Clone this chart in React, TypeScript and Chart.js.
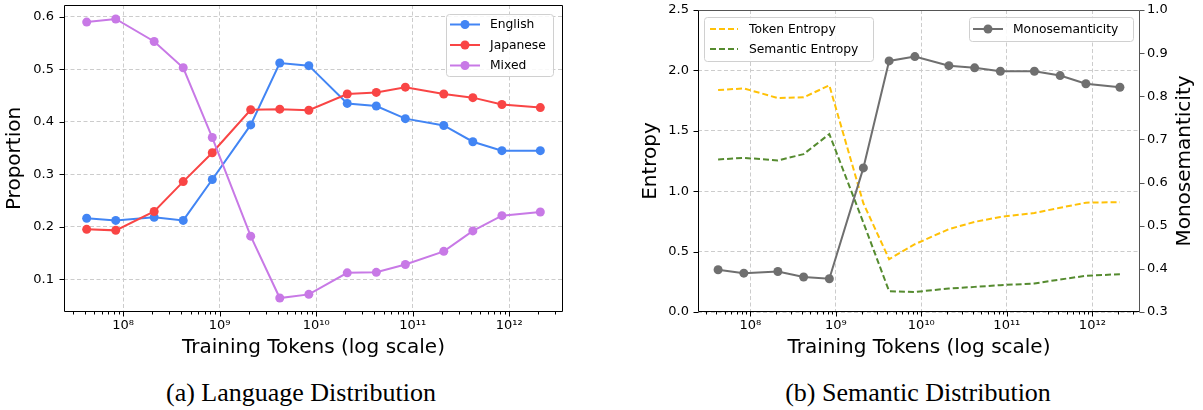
import React, { useEffect, useRef } from "react";
import { Chart, registerables } from "chart.js";

Chart.register(...registerables);

// ---------- data ----------
const tokens = [4.2e7, 8.4e7, 2.1e8, 4.2e8, 8.4e8, 2.1e9, 4.2e9, 8.4e9, 2.1e10, 4.2e10, 8.4e10, 2.1e11, 4.2e11, 8.4e11, 2.1e12];

const english = [0.216, 0.212, 0.218, 0.212, 0.29, 0.394, 0.512, 0.507, 0.435, 0.43, 0.406, 0.393, 0.362, 0.345, 0.345];
const japanese = [0.195, 0.193, 0.229, 0.286, 0.341, 0.423, 0.424, 0.422, 0.453, 0.456, 0.466, 0.453, 0.446, 0.433, 0.427];
const mixed = [0.59, 0.596, 0.553, 0.503, 0.37, 0.182, 0.064, 0.071, 0.112, 0.113, 0.128, 0.153, 0.192, 0.221, 0.228];

const tokenEntropy = [1.837, 1.851, 1.771, 1.777, 1.876, 0.9, 0.437, 0.561, 0.686, 0.746, 0.787, 0.82, 0.863, 0.905, 0.909];
const semanticEntropy = [1.263, 1.276, 1.255, 1.307, 1.473, 0.74, 0.172, 0.166, 0.194, 0.208, 0.222, 0.236, 0.269, 0.3, 0.313];
const monosemanticity = [0.398, 0.39, 0.394, 0.381, 0.377, 0.634, 0.882, 0.892, 0.871, 0.866, 0.858, 0.858, 0.848, 0.829, 0.821];

const proportionTicks = [0.1, 0.2, 0.3, 0.4, 0.5, 0.6];
const entropyTicks = [0, 0.5, 1.0, 1.5, 2.0, 2.5];
const monoTicks = [0.3, 0.4, 0.5, 0.6, 0.7, 0.8, 0.9, 1.0];
const decadeTicks = [1e8, 1e9, 1e10, 1e11, 1e12];
const decadeLabels = ["10⁸", "10⁹", "10¹⁰", "10¹¹", "10¹²"];

// ---------- styles ----------
const BLUE = "#4285F4";
const RED = "#F94545";
const PURPLE = "#C879E6";
const YELLOW = "#FFC107";
const GREEN = "#558B2F";
const GRAY = "#6F6F6F";
const GRID = "#cccccc";
const FONT = "'DejaVu Sans'";
const tickFont = { family: FONT, size: 13 };
const titleFont = { family: FONT, size: 20 };

const pts = (ys: number[]) => tokens.map((x, i) => ({ x, y: ys[i] }));

// x range: matplotlib-like 5% margin in log space
const lx0 = Math.log10(tokens[0]);
const lx1 = Math.log10(tokens[tokens.length - 1]);
const xMin = Math.pow(10, lx0 - 0.05 * (lx1 - lx0));
const xMax = Math.pow(10, lx1 + 0.05 * (lx1 - lx0));

const allProp = [...english, ...japanese, ...mixed];
const pMin = Math.min(...allProp);
const pMax = Math.max(...allProp);
const yPropMin = pMin - 0.05 * (pMax - pMin);
const yPropMax = pMax + 0.05 * (pMax - pMin);

// all log tick positions (majors + minors) within range
const xTickValues: { value: number; major: boolean }[] = [];
for (let k = 6; k <= 13; k++) {
  for (let n = 1; n <= 9; n++) {
    const v = n * Math.pow(10, k);
    if (v >= xMin && v <= xMax) xTickValues.push({ value: v, major: n === 1 });
  }
}

const fixSize = (dim: "width" | "height", v: number) => (scale: any) => {
  scale[dim] = v;
  scale.paddingTop = 0;
  scale.paddingBottom = 0;
  scale.paddingLeft = 0;
  scale.paddingRight = 0;
};

const xScaleOpts = () => ({
  type: "logarithmic",
  position: "bottom",
  min: xMin,
  max: xMax,
  bounds: "data",
  afterBuildTicks: (s: any) => {
    s.ticks = xTickValues.map((t) => ({ value: t.value, major: t.major }));
  },
  afterFit: fixSize("height", 53),
  grid: {
    drawTicks: false,
    lineWidth: 1,
    color: (c: any) => (c.tick && c.tick.major ? GRID : "rgba(0,0,0,0)"),
  },
  border: { display: false, dash: [4, 2.5] },
  ticks: {
    autoSkip: false,
    maxRotation: 0,
    minRotation: 0,
    padding: 6,
    color: "#000",
    font: tickFont,
    callback: (v: any) => {
      const idx = decadeTicks.findIndex((d) => Math.abs(d - Number(v)) / d < 1e-9);
      return idx >= 0 ? decadeLabels[idx] : "";
    },
  },
  title: {
    display: true,
    text: "Training Tokens (log scale)",
    color: "#000",
    font: titleFont,
    padding: { top: 0, bottom: 5 },
  },
});

// ---------- plugin: matplotlib-like frame, ticks, inner legends ----------
const mplPlugin: any = {
  id: "mpl",
  afterDraw(chart: any, _args: any, opts: any) {
    const ctx = chart.ctx as CanvasRenderingContext2D;
    const ca = chart.chartArea;
    const L = Math.round(ca.left) + 0.5;
    const R = Math.round(ca.right) - 0.5;
    const T = Math.round(ca.top) + 0.5;
    const B = Math.round(ca.bottom) - 0.5;
    ctx.save();
    ctx.setLineDash([]);
    // tick marks
    Object.keys(chart.scales).forEach((id) => {
      const s = chart.scales[id];
      ctx.strokeStyle = (opts.tickColors && opts.tickColors[id]) || "#000";
      ctx.lineWidth = 1;
      ctx.beginPath();
      s.ticks.forEach((t: any) => {
        const p = Math.round(s.getPixelForValue(t.value)) + 0.5;
        if (s.isHorizontal()) {
          const len = t.major ? 5 : 3;
          ctx.moveTo(p, B);
          ctx.lineTo(p, B + len);
        } else if (s.position === "left") {
          ctx.moveTo(L - 5, p - 0.5 + 0.5);
          ctx.lineTo(L, p);
        } else {
          ctx.moveTo(R, p);
          ctx.lineTo(R + 5, p);
        }
      });
      ctx.stroke();
    });
    // spines
    const sp = opts.spines;
    const seg = (x1: number, y1: number, x2: number, y2: number, c: string) => {
      ctx.strokeStyle = c;
      ctx.lineWidth = 1;
      ctx.beginPath();
      ctx.moveTo(x1, y1);
      ctx.lineTo(x2, y2);
      ctx.stroke();
    };
    seg(L, T, R, T, sp.top);
    seg(R, T, R, B, sp.right);
    seg(L, B, R, B, sp.bottom);
    seg(L, T, L, B, sp.left);

    // legends
    (opts.legends || []).forEach((lg: any) => {
      const x0 = lg.anchor === "ne" ? ca.right - lg.dx - lg.width : ca.left + lg.dx;
      const y0 = ca.top + lg.dy;
      ctx.beginPath();
      const anyCtx = ctx as any;
      if (anyCtx.roundRect) anyCtx.roundRect(Math.round(x0) + 0.5, Math.round(y0) + 0.5, lg.width, lg.height, 3);
      else ctx.rect(Math.round(x0) + 0.5, Math.round(y0) + 0.5, lg.width, lg.height);
      ctx.fillStyle = "rgba(255,255,255,0.85)";
      ctx.fill();
      ctx.strokeStyle = "#d0d0d0";
      ctx.lineWidth = 1;
      ctx.stroke();
      const n = lg.items.length;
      lg.items.forEach((di: number, k: number) => {
        const ds = chart.data.datasets[di];
        const cy = y0 + lg.height / 2 + (k - (n - 1) / 2) * lg.rowGap;
        ctx.strokeStyle = ds.borderColor;
        ctx.lineWidth = ds.borderWidth;
        ctx.setLineDash(ds.borderDash || []);
        ctx.beginPath();
        ctx.moveTo(x0 + lg.hx0, cy);
        ctx.lineTo(x0 + lg.hx1, cy);
        ctx.stroke();
        ctx.setLineDash([]);
        if (ds.pointRadius > 0) {
          ctx.beginPath();
          ctx.arc(x0 + (lg.hx0 + lg.hx1) / 2, cy, ds.pointRadius, 0, Math.PI * 2);
          ctx.fillStyle = ds.pointBackgroundColor;
          ctx.fill();
        }
        ctx.fillStyle = "#000";
        ctx.font = `12.3px ${FONT}`;
        ctx.textAlign = "left";
        ctx.textBaseline = "middle";
        ctx.fillText(ds.label, x0 + lg.tx, cy + 0.5);
      });
    });

    // right-side axis title reading bottom-to-top
    if (opts.rightTitle) {
      const rt = opts.rightTitle;
      ctx.save();
      ctx.translate(chart.width - rt.fromRight, (ca.top + ca.bottom) / 2);
      ctx.rotate(-Math.PI / 2);
      ctx.fillStyle = "#000";
      ctx.font = `20px ${FONT}`;
      ctx.textAlign = "center";
      ctx.textBaseline = "middle";
      ctx.fillText(rt.text, 0, 0);
      ctx.restore();
    }
    ctx.restore();
  },
};

const lineDs = (label: string, ys: number[], color: string, order: number, extra: any = {}) => ({
  label,
  data: pts(ys),
  borderColor: color,
  backgroundColor: color,
  pointBackgroundColor: color,
  pointBorderColor: color,
  pointBorderWidth: 0,
  pointRadius: 4.5,
  borderWidth: 2,
  tension: 0,
  order,
  ...extra,
});

function leftConfig(): any {
  return {
    type: "line",
    data: {
      datasets: [
        lineDs("English", english, BLUE, 2),
        lineDs("Japanese", japanese, RED, 1),
        lineDs("Mixed", mixed, PURPLE, 0),
      ],
    },
    options: {
      responsive: false,
      animation: false,
      devicePixelRatio: 1,
      events: [],
      layout: { padding: { left: 0, right: 37, top: 5, bottom: 0 } },
      scales: {
        x: xScaleOpts(),
        y: {
          type: "linear",
          position: "left",
          min: yPropMin,
          max: yPropMax,
          bounds: "data",
          afterBuildTicks: (s: any) => {
            s.ticks = proportionTicks.map((v) => ({ value: v }));
          },
          afterFit: fixSize("width", 64),
          grid: { drawTicks: false, color: GRID, lineWidth: 1 },
          border: { display: false, dash: [4, 2.5] },
          ticks: { padding: 10, color: "#000", font: tickFont, callback: (v: any) => Number(v).toFixed(1) },
          title: { display: true, text: "Proportion", color: "#000", font: titleFont, padding: { top: 3, bottom: 0 } },
        },
      },
      plugins: {
        legend: { display: false },
        tooltip: { enabled: false },
        mpl: {
          spines: { left: "#000", right: "#000", top: "#000", bottom: "#000" },
          legends: [
            { anchor: "ne", dx: 10, dy: 9, width: 107, height: 62, rowGap: 20.5, hx0: 4, hx1: 34, tx: 44, items: [0, 1, 2] },
          ],
        },
      },
    },
    plugins: [mplPlugin],
  };
}

function rightConfig(): any {
  return {
    type: "line",
    data: {
      datasets: [
        lineDs("Token Entropy", tokenEntropy, YELLOW, 2, { pointRadius: 0, borderDash: [6, 3], yAxisID: "y" }),
        lineDs("Semantic Entropy", semanticEntropy, GREEN, 1, { pointRadius: 0, borderDash: [6, 3], yAxisID: "y" }),
        lineDs("Monosemanticity", monosemanticity, GRAY, 0, { yAxisID: "y2" }),
      ],
    },
    options: {
      responsive: false,
      animation: false,
      devicePixelRatio: 1,
      events: [],
      layout: { padding: { left: 0, right: 0, top: 10, bottom: 0 } },
      scales: {
        x: xScaleOpts(),
        y: {
          type: "linear",
          position: "left",
          min: entropyTicks[0],
          max: entropyTicks[entropyTicks.length - 1],
          bounds: "data",
          afterBuildTicks: (s: any) => {
            s.ticks = entropyTicks.map((v) => ({ value: v }));
          },
          afterFit: fixSize("width", 98),
          grid: { drawTicks: false, color: GRID, lineWidth: 1 },
          border: { display: false, dash: [4, 2.5] },
          ticks: { padding: 9, color: "#000", font: tickFont, callback: (v: any) => Number(v).toFixed(1) },
          title: { display: true, text: "Entropy", color: "#000", font: titleFont, padding: { top: 39, bottom: 0 } },
        },
        y2: {
          type: "linear",
          position: "right",
          min: monoTicks[0],
          max: monoTicks[monoTicks.length - 1],
          bounds: "data",
          afterBuildTicks: (s: any) => {
            s.ticks = monoTicks.map((v) => ({ value: v }));
          },
          afterFit: fixSize("width", 63),
          grid: { drawTicks: false, drawOnChartArea: false },
          border: { display: false },
          ticks: { padding: 7, color: "#000", font: tickFont, callback: (v: any) => Number(v).toFixed(1) },
          title: { display: false },
        },
      },
      plugins: {
        legend: { display: false },
        tooltip: { enabled: false },
        mpl: {
          spines: { left: "#000", right: "#555", top: "#555", bottom: "#000" },
          tickColors: { y2: "#555" },
          rightTitle: { text: "Monosemanticity", fromRight: 18 },
          legends: [
            { anchor: "nw", dx: 6, dy: 7, width: 169, height: 44, rowGap: 20, hx0: 6, hx1: 34, tx: 45, items: [0, 1] },
            { anchor: "ne", dx: 7, dy: 7, width: 164, height: 24, rowGap: 20, hx0: 4, hx1: 34, tx: 44, items: [2] },
          ],
        },
      },
    },
    plugins: [mplPlugin],
  };
}

const captionStyle = (cx: number): React.CSSProperties => ({
  position: "absolute",
  left: cx - 250,
  width: 500,
  top: 378,
  height: 30,
  lineHeight: "30px",
  textAlign: "center",
  fontFamily: "'Liberation Serif', 'Times New Roman', serif",
  fontSize: 26,
  color: "#000",
  whiteSpace: "nowrap",
});

export default function App() {
  const leftRef = useRef<HTMLCanvasElement>(null);
  const rightRef = useRef<HTMLCanvasElement>(null);

  useEffect(() => {
    const c1 = new Chart(leftRef.current as HTMLCanvasElement, leftConfig());
    const c2 = new Chart(rightRef.current as HTMLCanvasElement, rightConfig());
    return () => {
      c1.destroy();
      c2.destroy();
    };
  }, []);

  return (
    <div style={{ position: "absolute", left: 0, top: 0, width: 1203, height: 410, background: "#fff", overflow: "hidden" }}>
      <canvas ref={leftRef} width={600} height={365} style={{ position: "absolute", left: 0, top: 0, width: 600, height: 365 }} />
      <canvas ref={rightRef} width={603} height={365} style={{ position: "absolute", left: 600, top: 0, width: 603, height: 365 }} />
      <div style={captionStyle(301)}>(a) Language Distribution</div>
      <div style={captionStyle(918)}>(b) Semantic Distribution</div>
    </div>
  );
}
